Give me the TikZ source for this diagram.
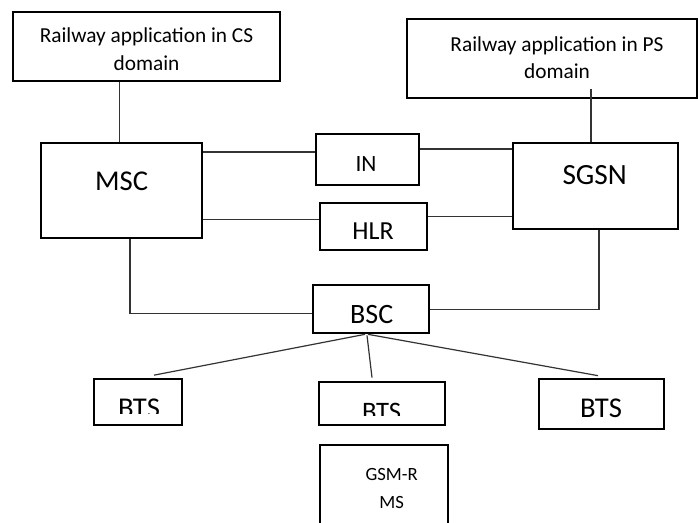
\documentclass[tikz,border=0pt]{standalone}
\usepackage{fontspec}
\setmainfont{Carlito}
\usetikzlibrary{fit,calc}

% one unit = one pixel of the final drawing, y grows downwards
\tikzset{
  x=0.75pt, y=-0.75pt,
  box/.style={draw, line width=2pt, inner sep=0pt},
  wire/.style={line width=0.9pt, draw=black!80},
  lbl/.style={anchor=base, inner sep=0pt, align=center},
}
\newcommand{\fs}[2]{\fontsize{#1}{#2}\selectfont}

\begin{document}
\begin{tikzpicture}
  \fill[white] (0,0) rectangle (698,523);
  \useasboundingbox (0,0) rectangle (698,523);

  % boxes
  \node[box, fit={(13,12) (280,81)}]   (csapp) {};
  \node[box, fit={(407,19) (697,98)}]  (psapp) {};
  \node[box, fit={(41,143) (202,238)}] (msc) {};
  \node[box, fit={(513,143) (678,229)}] (sgsn) {};
  \node[box, fit={(316,134) (419,185)}] (in) {};
  \node[box, fit={(320,203) (427,250)}] (hlr) {};
  \node[box, fit={(313,285) (429,333)}] (bsc) {};
  \node[box, fit={(94,379) (182,425)}]  (btsL) {};
  \node[box, fit={(319,382) (445,425)}] (btsM) {};
  \node[box, fit={(539,379) (664,429)}] (btsR) {};
  \node[box, fit={(320,445) (448,540)}] (ms) {};

  % labels (a multi-line label sits on the baseline of its last line)
  \node[lbl, font=\fs{16}{21}] (csapp-t) at (146.5,70.7) {Railway application in CS\\domain};
  \node[lbl, font=\fs{16}{20.5}] (psapp-t) at (557,79) {Railway application in PS\\domain};
  \node[lbl, font=\fs{21.5}{25}] (msc-t)  at (121.7,190.7) {MSC};
  \node[lbl, font=\fs{22}{26}] (sgsn-t) at (594.7,185) {SGSN};
  \node[lbl, font=\fs{17.5}{20}] (in-t)   at (366,172) {IN};
  \node[lbl, font=\fs{19.5}{22}] (hlr-t)  at (373,240) {HLR};
  \node[lbl, font=\fs{21}{25}] (bsc-t)  at (371.7,323.3) {BSC};
  \node[lbl, font=\fs{21.5}{25}] (btsR-t) at (601,417.3) {BTS};
  \begin{scope}
    \clip (94,379) rectangle (182,413);
    \node[lbl, font=\fs{21.5}{25}] (btsL-t) at (139,417) {BTS};
  \end{scope}
  \begin{scope}
    \clip (319,382) rectangle (445,415);
    \node[lbl, font=\fs{20}{24}] (btsM-t) at (381.7,420.5) {BTS};
  \end{scope}
  \node[lbl, font=\fs{14}{21.2}] (ms-t) at (391.7,508.3) {GSM-R\\MS};

  % connectors
  \draw[wire] ($(msc.north)+(-2.2,0)$) coordinate (a1) -- (a1 |- csapp.south);
  \draw[wire] ($(sgsn.north)+(-4.5,0)$) coordinate (a2) -- ($(a2 |- psapp.south)+(0,-10)$);
  \draw[wire] ($(in.west)+(0,-7.5)$) coordinate (a3) -- (a3 -| msc.east);
  \draw[wire] ($(in.east)+(0,-10.5)$) coordinate (a4) -- (a4 -| sgsn.west);
  \draw[wire] ($(hlr.west)+(0,-7)$) coordinate (a5) -- (a5 -| msc.east);
  \draw[wire] ($(hlr.east)+(0,-10)$) coordinate (a6) -- (a6 -| sgsn.west);
  \draw[wire] ($(msc.south)+(8.5,0)$) |- ($(bsc.west)+(0,4.5)$);
  \draw[wire] ($(sgsn.south)+(3.5,0)$) |- ($(bsc.east)+(0,0.5)$);
  \draw[wire] ($(bsc.south)+(-6,0)$) -- ($(btsL.north)+(16,-2.5)$);
  \draw[wire] ($(bsc.south)+(-4,1)$) -- ($(btsM.north)+(-10,-3)$);
  \draw[wire] ($(bsc.south)+(-3,0)$) -- ($(btsR.north)+(-3.5,-2)$);
\end{tikzpicture}
\end{document}
